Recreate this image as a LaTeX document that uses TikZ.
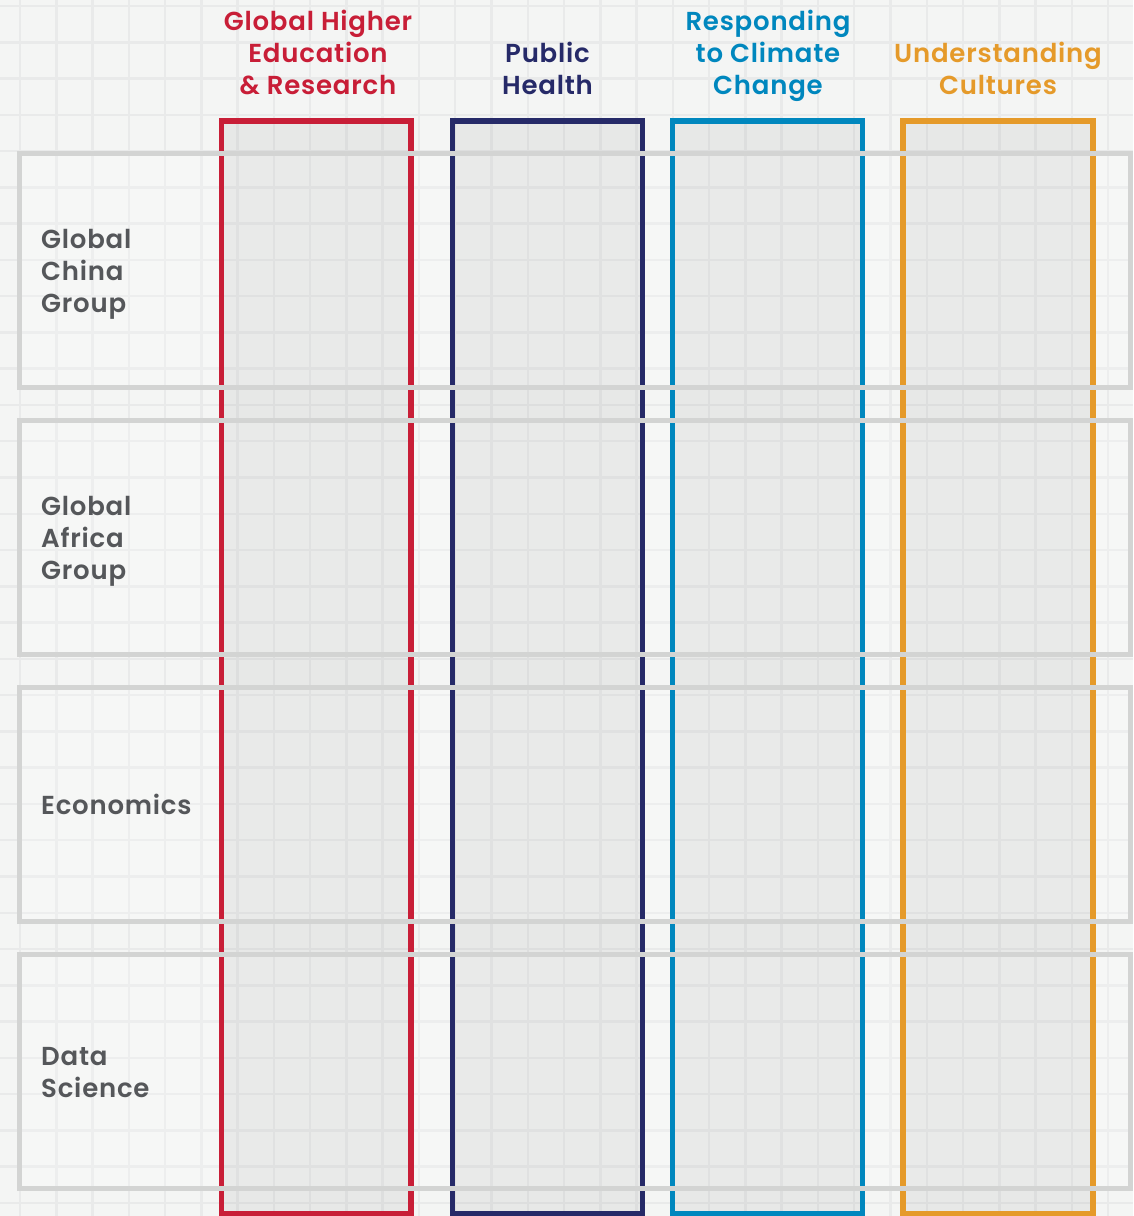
\documentclass[tikz,border=0pt]{standalone}
\usepackage{fontspec}
\setmainfont{Poppins}[UprightFont=* SemiBold, BoldFont=* Bold, LetterSpace=3]
\definecolor{bgc}{HTML}{F4F5F4}
\definecolor{gridc}{HTML}{E9EAEA}
\definecolor{rowc}{HTML}{D3D4D3}
\definecolor{txtc}{HTML}{55575A}
\definecolor{redc}{HTML}{C81E37}
\definecolor{navyc}{HTML}{262A68}
\definecolor{bluec}{HTML}{0087BE}
\definecolor{orangec}{HTML}{E59A2A}
\begin{document}
\begin{tikzpicture}[x=1pt,y=-1pt,
  gridline/.style={draw=gridc,line width=2.5pt},
  rowfill/.style={fill=white,fill opacity=0.2,draw=none},
  rowline/.style={draw=rowc,line width=5pt},
  colfill/.style={fill=black,fill opacity=0.05,draw=none},
  colline/.style={line width=5.5pt},
  head/.style={anchor=base,align=center,inner sep=0pt,font=\fontsize{26}{32}\selectfont},
  lab/.style={anchor=base west,align=left,inner sep=0pt,text=txtc,font=\fontsize{26}{32}\selectfont}]
\useasboundingbox (0,0) rectangle (1133,1216);
\fill[bgc] (0,0) rectangle (1133,1216);
% grid
\foreach \i in {0,...,30} \draw[gridline] ({20+36.27*\i},0) -- ({20+36.27*\i},1216);
\foreach \j in {0,...,33} \draw[gridline] (0,{6+36.27*\j}) -- (1133,{6+36.27*\j});
% row boxes (fills)
\foreach \t in {153,420,687,954} \path[rowfill] (19,\t) rectangle (1130.5,{\t+234});
% columns
\foreach \l/\r/\c in {221.5/411/redc,452.5/642.5/navyc,672.5/862.5/bluec,903/1093/orangec}{
  \path[colfill] (\l,121) rectangle (\r,1214);
  \draw[colline,draw=\c] (\l,121) rectangle (\r,1214);
}
% row outlines
\draw[rowline] (19,153) rectangle (1130.5,387) coordinate (r1);
\draw[rowline] (19,420) rectangle (1130.5,654) coordinate (r2);
\draw[rowline] (19,687) rectangle (1130.5,921) coordinate (r3);
\draw[rowline] (19,954) rectangle (1130.5,1188) coordinate (r4);
% headers
\node[head,text=redc] (h1) at (318,94) {Global Higher\\Education\\\& Research};
\node[head,text=navyc] (h2) at (547.5,94) {Public\\Health};
\node[head,text=bluec] (h3) at (768,94) {Responding\\to Climate\\Change};
\node[head,text=orangec] (h4) at (998,94) {Understanding\\Cultures};
% row labels
\node[lab] (l1) at (41,312) {Global\\China\\Group};
\node[lab] (l2) at (41,579) {Global\\Africa\\Group};
\node[lab] (l3) at (41,814) {Economics};
\node[lab] (l4) at (41,1097) {Data\\Science};
\end{tikzpicture}
\end{document}
